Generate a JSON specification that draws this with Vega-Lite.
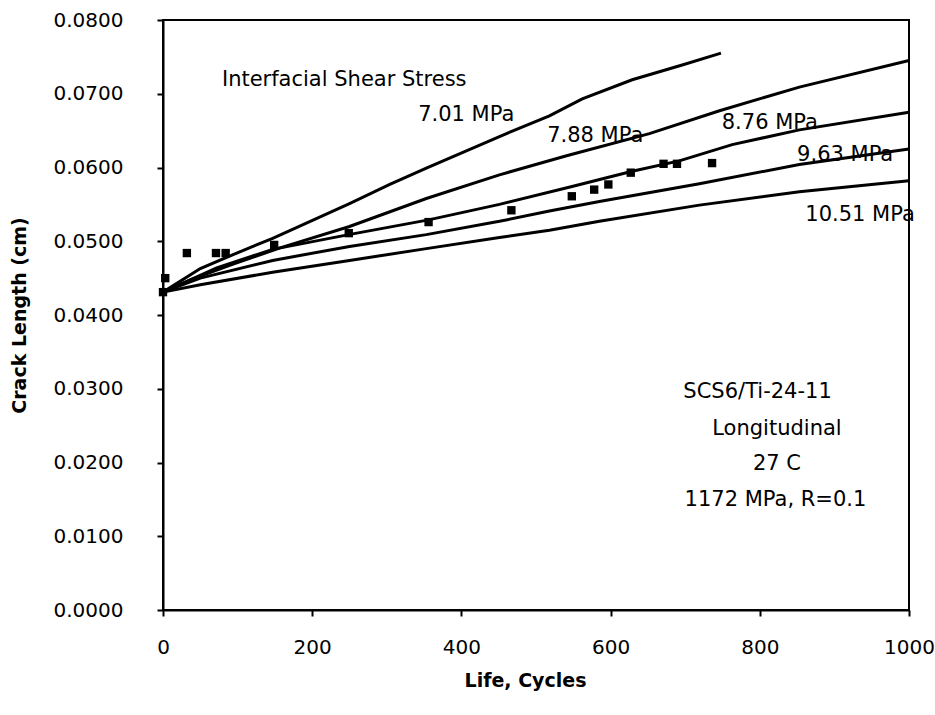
{
  "$schema": "https://vega.github.io/schema/vega-lite/v6.json",
  "width": 746,
  "height": 590,
  "autosize": {"type": "none"},
  "padding": {"left": 163, "top": 20, "right": 26, "bottom": 105},
  "background": "white",
  "config": {
    "view": {"stroke": "black", "strokeWidth": 2},
    "font": "DejaVu Sans",
    "axis": {
      "grid": false,
      "domainColor": "black",
      "domainWidth": 2,
      "tickColor": "black",
      "tickWidth": 2,
      "tickSize": 6,
      "labelColor": "black",
      "titleColor": "black",
      "labelFont": "DejaVu Sans",
      "titleFont": "DejaVu Sans",
      "labelFontSize": 20,
      "titleFontSize": 19,
      "titleFontWeight": "bold",
      "labelFlush": false,
      "labelOverlap": false
    }
  },
  "datasets": {
    "curves": [
      {"stress": "7.01", "cycles": 0, "len": 0.0431},
      {"stress": "7.01", "cycles": 50, "len": 0.0463},
      {"stress": "7.01", "cycles": 94, "len": 0.0482},
      {"stress": "7.01", "cycles": 147, "len": 0.0504},
      {"stress": "7.01", "cycles": 250, "len": 0.0551},
      {"stress": "7.01", "cycles": 304, "len": 0.0577},
      {"stress": "7.01", "cycles": 353, "len": 0.0599},
      {"stress": "7.01", "cycles": 451, "len": 0.0642},
      {"stress": "7.01", "cycles": 518, "len": 0.0670},
      {"stress": "7.01", "cycles": 562, "len": 0.0693},
      {"stress": "7.01", "cycles": 629, "len": 0.0719},
      {"stress": "7.01", "cycles": 696, "len": 0.0739},
      {"stress": "7.01", "cycles": 748, "len": 0.0755},
      {"stress": "7.88", "cycles": 0, "len": 0.0431},
      {"stress": "7.88", "cycles": 40, "len": 0.0449},
      {"stress": "7.88", "cycles": 94, "len": 0.0469},
      {"stress": "7.88", "cycles": 157, "len": 0.0491},
      {"stress": "7.88", "cycles": 250, "len": 0.0520},
      {"stress": "7.88", "cycles": 353, "len": 0.0558},
      {"stress": "7.88", "cycles": 451, "len": 0.0590},
      {"stress": "7.88", "cycles": 541, "len": 0.0616},
      {"stress": "7.88", "cycles": 652, "len": 0.0646},
      {"stress": "7.88", "cycles": 746, "len": 0.0677},
      {"stress": "7.88", "cycles": 853, "len": 0.0709},
      {"stress": "7.88", "cycles": 1000, "len": 0.0745},
      {"stress": "8.76", "cycles": 0, "len": 0.0431},
      {"stress": "8.76", "cycles": 72, "len": 0.0464},
      {"stress": "8.76", "cycles": 147, "len": 0.0489},
      {"stress": "8.76", "cycles": 249, "len": 0.0509},
      {"stress": "8.76", "cycles": 356, "len": 0.0529},
      {"stress": "8.76", "cycles": 451, "len": 0.0550},
      {"stress": "8.76", "cycles": 547, "len": 0.0574},
      {"stress": "8.76", "cycles": 629, "len": 0.0595},
      {"stress": "8.76", "cycles": 692, "len": 0.0609},
      {"stress": "8.76", "cycles": 763, "len": 0.0631},
      {"stress": "8.76", "cycles": 853, "len": 0.0651},
      {"stress": "8.76", "cycles": 1000, "len": 0.0675},
      {"stress": "9.63", "cycles": 0, "len": 0.0431},
      {"stress": "9.63", "cycles": 50, "len": 0.0450},
      {"stress": "9.63", "cycles": 147, "len": 0.0474},
      {"stress": "9.63", "cycles": 250, "len": 0.0493},
      {"stress": "9.63", "cycles": 353, "len": 0.0509},
      {"stress": "9.63", "cycles": 451, "len": 0.0527},
      {"stress": "9.63", "cycles": 518, "len": 0.0541},
      {"stress": "9.63", "cycles": 585, "len": 0.0554},
      {"stress": "9.63", "cycles": 719, "len": 0.0578},
      {"stress": "9.63", "cycles": 853, "len": 0.0604},
      {"stress": "9.63", "cycles": 1000, "len": 0.0625},
      {"stress": "10.51", "cycles": 0, "len": 0.0431},
      {"stress": "10.51", "cycles": 50, "len": 0.0441},
      {"stress": "10.51", "cycles": 147, "len": 0.0458},
      {"stress": "10.51", "cycles": 250, "len": 0.0474},
      {"stress": "10.51", "cycles": 353, "len": 0.0490},
      {"stress": "10.51", "cycles": 451, "len": 0.0505},
      {"stress": "10.51", "cycles": 518, "len": 0.0515},
      {"stress": "10.51", "cycles": 585, "len": 0.0527},
      {"stress": "10.51", "cycles": 719, "len": 0.0549},
      {"stress": "10.51", "cycles": 853, "len": 0.0567},
      {"stress": "10.51", "cycles": 1000, "len": 0.0582}
    ],
    "points": [
      {"cycles": 0, "len": 0.0431},
      {"cycles": 3, "len": 0.0450},
      {"cycles": 32, "len": 0.0484},
      {"cycles": 71, "len": 0.0484},
      {"cycles": 84, "len": 0.0484},
      {"cycles": 149, "len": 0.0495},
      {"cycles": 249, "len": 0.0511},
      {"cycles": 356, "len": 0.0526},
      {"cycles": 467, "len": 0.0542},
      {"cycles": 548, "len": 0.0561},
      {"cycles": 578, "len": 0.0570},
      {"cycles": 597, "len": 0.0577},
      {"cycles": 627, "len": 0.0593},
      {"cycles": 671, "len": 0.0605},
      {"cycles": 689, "len": 0.0605},
      {"cycles": 736, "len": 0.0606}
    ],
    "labels": [
      {"cycles": 79, "len": 0.0719, "text": "Interfacial Shear Stress"},
      {"cycles": 342, "len": 0.0671, "text": "7.01  MPa"},
      {"cycles": 515, "len": 0.0643, "text": "7.88  MPa"},
      {"cycles": 749, "len": 0.0660, "text": "8.76  MPa"},
      {"cycles": 850, "len": 0.0617, "text": "9.63  MPa"},
      {"cycles": 861, "len": 0.0536, "text": "10.51  MPa"}
    ],
    "notes": [
      {"cycles": 797, "len": 0.0296, "text": "SCS6/Ti-24-11"},
      {"cycles": 823, "len": 0.0246, "text": "Longitudinal"},
      {"cycles": 823, "len": 0.0198, "text": "27 C"},
      {"cycles": 821, "len": 0.0149, "text": "1172  MPa, R=0.1"}
    ]
  },
  "layer": [
    {
      "data": {"name": "curves"},
      "mark": {"type": "line", "color": "black", "strokeWidth": 3},
      "encoding": {
        "x": {
          "field": "cycles",
          "type": "quantitative",
          "scale": {"domain": [0, 1000], "nice": false},
          "axis": {
            "title": "Life, Cycles",
            "values": [0, 200, 400, 600, 800, 1000],
            "format": "d",
            "labelPadding": 21,
            "titlePadding": 14,
            "titleX": 362
          }
        },
        "y": {
          "field": "len",
          "type": "quantitative",
          "scale": {"domain": [0, 0.08], "nice": false},
          "axis": {
            "title": "Crack Length (cm)",
            "values": [0, 0.01, 0.02, 0.03, 0.04, 0.05, 0.06, 0.07, 0.08],
            "format": ".4f",
            "labelPadding": 34,
            "titlePadding": 24
          }
        },
        "detail": {"field": "stress", "type": "nominal"}
      }
    },
    {
      "data": {"name": "points"},
      "mark": {"type": "point", "shape": "square", "filled": true, "color": "black", "size": 70, "opacity": 1},
      "encoding": {
        "x": {"field": "cycles", "type": "quantitative"},
        "y": {"field": "len", "type": "quantitative"}
      }
    },
    {
      "data": {"name": "labels"},
      "mark": {"type": "text", "align": "left", "baseline": "middle", "fontSize": 21, "color": "black"},
      "encoding": {
        "x": {"field": "cycles", "type": "quantitative"},
        "y": {"field": "len", "type": "quantitative"},
        "text": {"field": "text"}
      }
    },
    {
      "data": {"name": "notes"},
      "mark": {"type": "text", "align": "center", "baseline": "middle", "fontSize": 21, "color": "black"},
      "encoding": {
        "x": {"field": "cycles", "type": "quantitative"},
        "y": {"field": "len", "type": "quantitative"},
        "text": {"field": "text"}
      }
    }
  ]
}
